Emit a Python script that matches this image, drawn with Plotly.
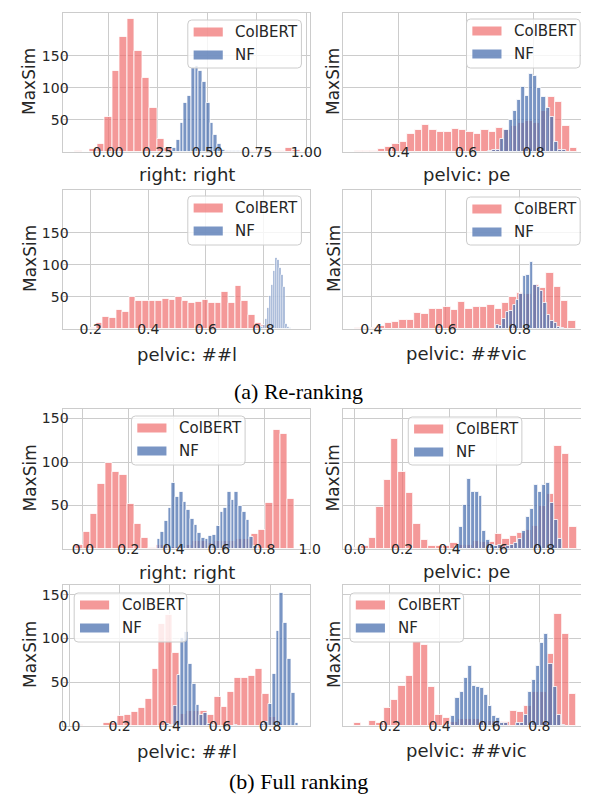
import plotly.graph_objects as go

# ---------------------------------------------------------------- data
PANEL_TITLES = ["right: right", "pelvic: pe", "pelvic: ##l", "pelvic: ##vic",
                "right: right", "pelvic: pe", "pelvic: ##l", "pelvic: ##vic"]
SERIES = ["ColBERT", "NF"]
CAPTIONS = ["(a) Re-ranking", "(b) Full ranking"]
Y_LABEL = "MaxSim"
Y_TICKS = [50, 100, 150]
X_TICKS = [[0.0, 0.25, 0.5, 0.75, 1.0], [0.4, 0.6, 0.8], [0.2, 0.4, 0.6, 0.8], [0.4, 0.6, 0.8],
           [0.0, 0.2, 0.4, 0.6, 0.8, 1.0], [0.0, 0.2, 0.4, 0.6, 0.8], [0.0, 0.2, 0.4, 0.6, 0.8],
           [0.2, 0.4, 0.6, 0.8]]
X_TICK_FORMAT = [".2f", ".1f", ".1f", ".1f", ".1f", ".1f", ".1f", ".1f"]

# histograms: (first bin edge, bin width) and counts per bin
# --- (a) Re-ranking
RR_RIGHT_COLBERT_BINS = (-0.170, 0.038)
RR_RIGHT_COLBERT = [1, 0, 4, 12, 55, 127, 179, 208, 157, 116, 68, 21, 6, 1, 0,
                    0, 0, 0, 1, 1, 1, 0, 1, 1, 1, 1, 1, 1, 6, 3]
RR_RIGHT_NF_BINS = (0.325, 0.019)
RR_RIGHT_NF = [6, 19, 45, 77, 87, 131, 134, 127, 110, 77, 45, 27, 13, 3, 1, 1, 2, 1, 2, 1]

RR_PE_COLBERT_BINS = (0.273, 0.0219)
RR_PE_COLBERT = [1, 1, 1, 4, 8, 13, 16, 28, 35, 42, 34, 31, 31, 36, 34,
                 31, 28, 34, 32, 37, 34, 40, 45, 48, 45, 64, 86, 78, 40, 7]
RR_PE_NF_BINS = (0.580, 0.0122)
RR_PE_NF = [0, 0, 0, 1, 0, 0, 0, 2, 3, 3, 21, 34, 50, 64, 81, 102, 88, 122, 118, 100,
            86, 68, 55, 16, 3, 3]

RR_L_COLBERT_BINS = (0.196, 0.023)
RR_L_COLBERT = [2, 9, 18, 17, 29, 27, 50, 43, 44, 43, 44, 47, 46, 50, 44,
                41, 42, 46, 41, 41, 58, 41, 67, 44, 22, 9, 6, 2, 1, 1]
RR_L_NF_BINS = (0.6885, 0.007)
RR_L_NF = [0, 0, 0, 0, 0, 0, 0, 0, 0, 0, 0, 0, 0, 0, 0,
           3, 7, 15, 33, 51, 69, 90, 111, 107, 96, 85, 65, 8, 3, 1]

RR_VIC_COLBERT_BINS = (0.357, 0.0198)
RR_VIC_COLBERT = [1, 2, 1, 5, 9, 11, 14, 14, 25, 23, 32, 32, 35, 29, 42,
                  32, 34, 34, 37, 32, 41, 50, 56, 55, 68, 64, 88, 65, 44, 12]
RR_VIC_NF_BINS = (0.7354, 0.0092)
RR_VIC_NF = [7, 4, 15, 27, 28, 38, 46, 55, 82, 84, 105, 68, 65, 59, 41, 22, 12, 9, 3, 2]

# --- (b) Full ranking
FR_RIGHT_COLBERT_BINS = (-0.031, 0.0322)
FR_RIGHT_COLBERT = [5, 20, 40, 75, 99, 88, 85, 52, 29, 13, 1, 5, 3, 2, 4,
                    5, 9, 9, 7, 9, 9, 9, 11, 11, 17, 22, 53, 137, 132, 57]
FR_RIGHT_NF_BINS = (0.327, 0.01634)
FR_RIGHT_NF = [11, 20, 32, 47, 76, 60, 66, 54, 45, 35, 28, 18, 13, 12, 15,
               16, 26, 43, 47, 65, 56, 66, 49, 43, 33, 14, 3]

FR_PE_COLBERT_BINS = (-0.0035, 0.0314)
FR_PE_COLBERT = [1, 4, 13, 48, 79, 126, 88, 64, 29, 10, 4, 3, 3, 7, 5,
                 5, 9, 8, 8, 17, 11, 15, 18, 22, 27, 49, 63, 118, 109, 25]
FR_PE_NF_BINS = (0.4226, 0.01685)
FR_PE_NF = [4, 25, 51, 80, 66, 66, 61, 21, 10, 5, 3, 5, 0, 3, 5,
            7, 11, 21, 37, 46, 74, 66, 74, 76, 53, 33, 11]

FR_L_COLBERT_BINS = (0.027, 0.0275)
FR_L_COLBERT = [1, 0, 0, 0, 4, 4, 11, 13, 16, 21, 31, 65, 116, 127, 83,
                14, 17, 17, 17, 12, 33, 22, 39, 55, 55, 57, 65, 36, 10, 2]
FR_L_NF_BINS = (0.3834, 0.01518)
FR_L_NF = [2, 1, 23, 58, 100, 107, 71, 48, 24, 13, 15, 2, 1, 0, 0, 0, 0, 0,
           1, 0, 0, 0, 0, 0, 0, 2, 5, 25, 59, 109, 152, 118, 76, 38, 3]

FR_VIC_COLBERT_BINS = (0.0565, 0.02978)
FR_VIC_COLBERT = [3, 0, 6, 4, 20, 30, 46, 57, 96, 93, 45, 13, 9, 5, 8,
                  8, 8, 6, 6, 5, 5, 17, 16, 23, 39, 39, 82, 128, 105, 36]
FR_VIC_NF_BINS = (0.432, 0.01623)
FR_VIC_NF = [1, 11, 32, 39, 55, 69, 46, 45, 43, 35, 23, 11, 9, 4, 3,
             0, 0, 3, 3, 13, 39, 52, 69, 95, 105, 71, 45, 13, 1]

PANEL_DATA = [
    ((RR_RIGHT_COLBERT_BINS, RR_RIGHT_COLBERT), (RR_RIGHT_NF_BINS, RR_RIGHT_NF)),
    ((RR_PE_COLBERT_BINS, RR_PE_COLBERT), (RR_PE_NF_BINS, RR_PE_NF)),
    ((RR_L_COLBERT_BINS, RR_L_COLBERT), (RR_L_NF_BINS, RR_L_NF)),
    ((RR_VIC_COLBERT_BINS, RR_VIC_COLBERT), (RR_VIC_NF_BINS, RR_VIC_NF)),
    ((FR_RIGHT_COLBERT_BINS, FR_RIGHT_COLBERT), (FR_RIGHT_NF_BINS, FR_RIGHT_NF)),
    ((FR_PE_COLBERT_BINS, FR_PE_COLBERT), (FR_PE_NF_BINS, FR_PE_NF)),
    ((FR_L_COLBERT_BINS, FR_L_COLBERT), (FR_L_NF_BINS, FR_L_NF)),
    ((FR_VIC_COLBERT_BINS, FR_VIC_COLBERT), (FR_VIC_NF_BINS, FR_VIC_NF)),
]

# ---------------------------------------------------------------- layout config
W, H = 589, 795
COLORS = ["rgba(240,110,110,0.7)", "rgba(76,114,176,0.75)"]
EDGE = "rgba(255,255,255,0.8)"
GRID = "#cccccc"
TXT = "#262626"
FONT = "DejaVu Sans"

COLS_PX = [(52, 306), (340, 589)]
ROWS_PX = [(5, 144), (182, 321), (401, 541), (577, 718)]
X_RANGES = [[-0.2255, 1.0196], [0.236, 0.9525], [0.1056, 0.9623], [0.3241, 0.9759],
            [-0.0857, 1.0021], [-0.0493, 0.9733], [-0.0232, 0.9594], [0.0129, 0.9836]]
Y_RANGES = [[0, 217], [0, 217], [0, 217], [0, 217], [0, 161], [0, 161], [0, 161], [0, 161]]
LEGEND_BOX = [(180, 12, 117, 48), (467, 11, 117, 49), (180, 188, 117, 49), (467, 189, 117, 48),
              (122, 408, 117, 49), (407, 409, 117, 48), (63, 585, 116, 49), (347, 585, 117, 49)]
XTITLE_Y = [167, 167, 346, 345, 564, 563, 743, 742]
CAPTION_Y = [383, 773]


def px(x):
    return x / W


def py(y):
    return 1 - y / H


fig = go.Figure()
layout = dict(width=W, height=H, margin=dict(l=0, r=0, t=0, b=0),
              paper_bgcolor="white", plot_bgcolor="white",
              barmode="overlay", bargap=0, showlegend=False)
shapes, annotations = [], []

for p in range(8):
    n = p + 1
    col, row = p % 2, p // 2
    xs = "" if n == 1 else str(n)
    for s, (bins, counts) in enumerate(PANEL_DATA[p]):
        start, size = bins
        centers = [start + size * (i + 0.5) for i in range(len(counts))]
        fig.add_trace(go.Histogram(
            x=centers, y=counts, histfunc="sum", name=SERIES[s],
            xbins=dict(start=start, end=start + size * len(counts), size=size),
            marker=dict(color=COLORS[s], line=dict(color=EDGE, width=1)),
            xaxis="x" + xs, yaxis="y" + xs, showlegend=False))
    x0, x1 = COLS_PX[col]
    y0, y1 = ROWS_PX[row]
    layout["xaxis" + xs] = dict(
        domain=[px(x0), px(x1)], anchor="y" + xs, range=X_RANGES[p],
        tickvals=X_TICKS[p], tickformat=X_TICK_FORMAT[p],
        showline=True, mirror=True, linecolor=GRID, linewidth=1.25,
        showgrid=True, gridcolor=GRID, gridwidth=1, zeroline=False, ticks="", ticklen=0,
        ticklabelstandoff=-13,
        tickfont=dict(family=FONT, size=14, color=TXT))
    layout["yaxis" + xs] = dict(
        domain=[py(y1), py(y0)], anchor="x" + xs, range=Y_RANGES[p],
        tickvals=Y_TICKS, showticklabels=(col == 0),
        showline=True, mirror=True, linecolor=GRID, linewidth=1.25,
        showgrid=True, gridcolor=GRID, gridwidth=1, zeroline=False, ticks="", ticklen=0,
        ticklabelstandoff=-9,
        tickfont=dict(family=FONT, size=14, color=TXT))
    # axis titles
    annotations.append(dict(text=PANEL_TITLES[p], xref="paper", yref="paper",
                            x=px((x0 + x1) / 2 + (2 if col == 1 else 0)), y=py(XTITLE_Y[p]),
                            xanchor="center", yanchor="middle", showarrow=False,
                            font=dict(family=FONT, size=18, color=TXT)))
    annotations.append(dict(text=Y_LABEL, xref="paper", yref="paper", textangle=-90,
                            x=px(17 if col == 0 else 330), y=py((y0 + y1) / 2 - 1),
                            xanchor="center", yanchor="middle", showarrow=False,
                            font=dict(family=FONT, size=17, color=TXT)))
    # legend (matplotlib style)
    lx, ly, lw, lh = LEGEND_BOX[p]
    r = 4
    path = (f"M {px(lx + r)},{py(ly)} L {px(lx + lw - r)},{py(ly)} "
            f"Q {px(lx + lw)},{py(ly)} {px(lx + lw)},{py(ly + r)} "
            f"L {px(lx + lw)},{py(ly + lh - r)} "
            f"Q {px(lx + lw)},{py(ly + lh)} {px(lx + lw - r)},{py(ly + lh)} "
            f"L {px(lx + r)},{py(ly + lh)} "
            f"Q {px(lx)},{py(ly + lh)} {px(lx)},{py(ly + lh - r)} "
            f"L {px(lx)},{py(ly + r)} Q {px(lx)},{py(ly)} {px(lx + r)},{py(ly)} Z")
    shapes.append(dict(type="path", path=path, xref="paper", yref="paper", layer="above",
                       fillcolor="rgba(255,255,255,0.8)", line=dict(color=GRID, width=1)))
    for s in range(2):
        cy = ly + 12 + 23 * s
        shapes.append(dict(type="rect", xref="paper", yref="paper", layer="above",
                           x0=px(lx + 6), x1=px(lx + 36), y0=py(cy - 4.5), y1=py(cy + 4.5),
                           fillcolor=COLORS[s], line=dict(width=0)))
        annotations.append(dict(text=SERIES[s], xref="paper", yref="paper",
                                x=px(lx + 47), y=py(cy), xanchor="left", yanchor="middle",
                                showarrow=False, font=dict(family=FONT, size=15, color=TXT)))

for c, cap in enumerate(CAPTIONS):
    annotations.append(dict(text=cap, xref="paper", yref="paper", x=px(294), y=py(CAPTION_Y[c]),
                            xanchor="center", yanchor="middle", showarrow=False,
                            font=dict(family="Liberation Serif", size=22, color="black")))

layout["shapes"] = shapes
layout["annotations"] = annotations
fig.update_layout(**layout)
fig.write_html("out.html")
